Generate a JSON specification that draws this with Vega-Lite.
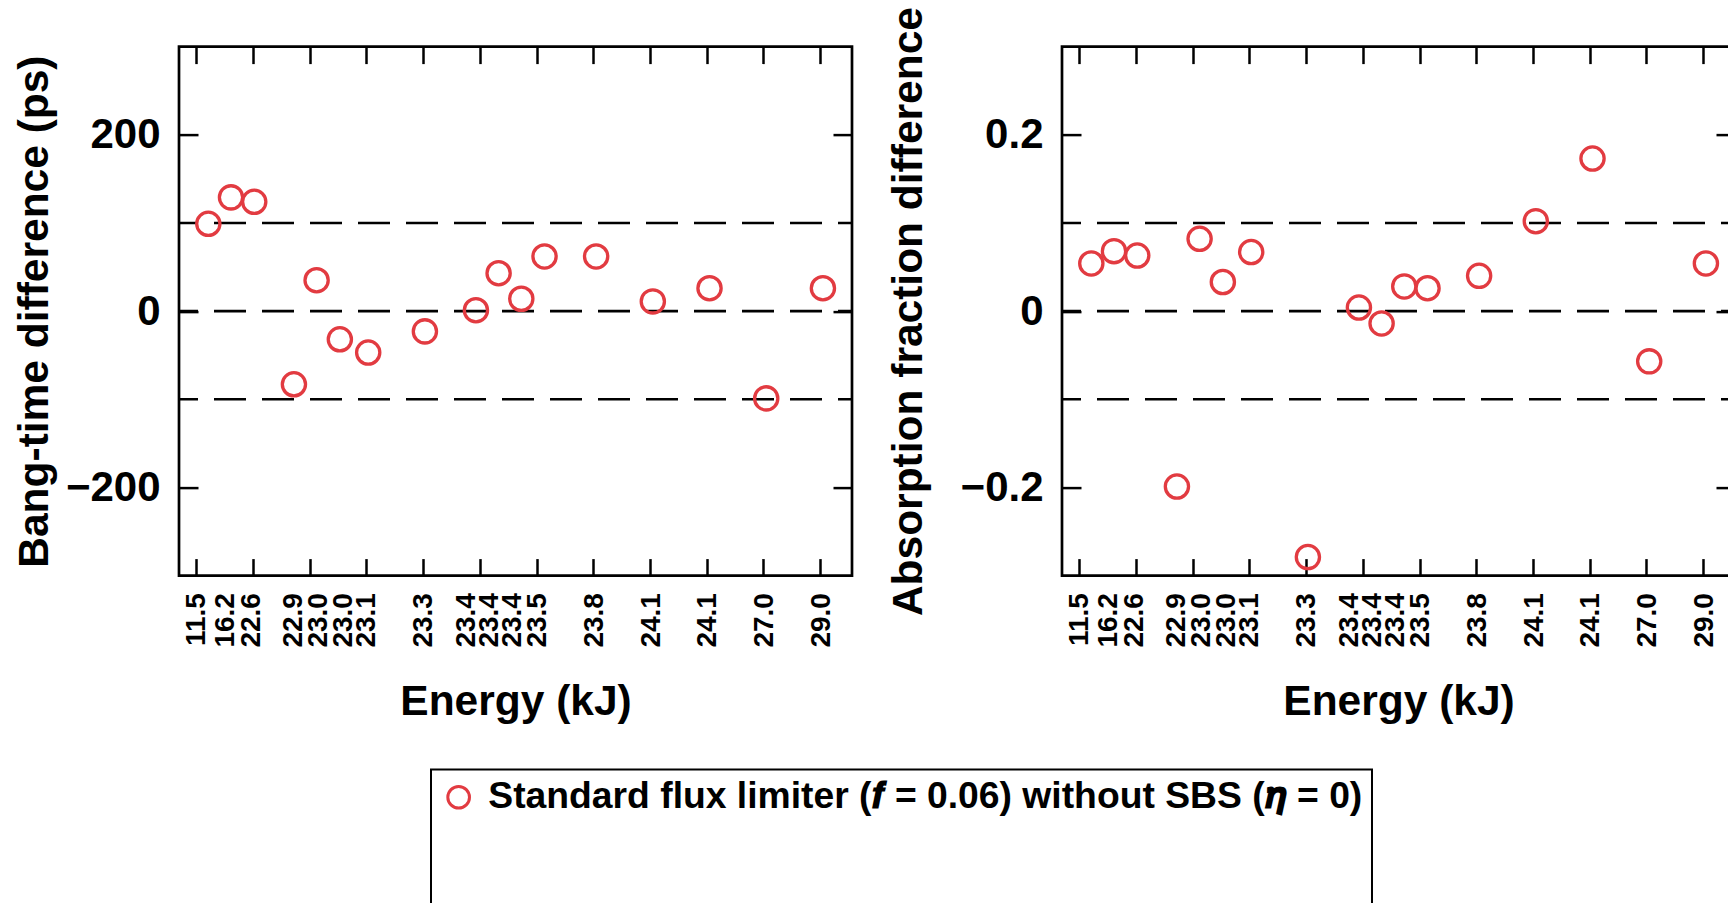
{
  "$schema": "https://vega.github.io/schema/vega-lite/v6.json",
  "padding": {"left": 12, "top": 4.6, "right": 0, "bottom": 0},
  "background": "white",
  "datasets": {
    "shots": [
      {"x": 0.21, "lx": 0.01, "energy": "11.5", "bang": 99, "absorption": 0.054},
      {"x": 0.61, "lx": 0.51, "energy": "16.2", "bang": 129, "absorption": 0.068},
      {"x": 1.02, "lx": 0.98, "energy": "22.6", "bang": 124, "absorption": 0.063},
      {"x": 1.72, "lx": 1.72, "energy": "22.9", "bang": -83, "absorption": -0.199},
      {"x": 2.12, "lx": 2.16, "energy": "23.0", "bang": 35, "absorption": 0.082},
      {"x": 2.53, "lx": 2.6, "energy": "23.0", "bang": -32, "absorption": 0.033},
      {"x": 3.03, "lx": 3.0, "energy": "23.1", "bang": -47, "absorption": 0.067},
      {"x": 4.03, "lx": 4.01, "energy": "23.3", "bang": -23, "absorption": -0.279},
      {"x": 4.93, "lx": 4.77, "energy": "23.4", "bang": 1, "absorption": 0.004},
      {"x": 5.33, "lx": 5.17, "energy": "23.4", "bang": 43, "absorption": -0.014},
      {"x": 5.73, "lx": 5.58, "energy": "23.4", "bang": 14, "absorption": 0.028},
      {"x": 6.14, "lx": 6.02, "energy": "23.5", "bang": 62, "absorption": 0.026},
      {"x": 7.05, "lx": 7.02, "energy": "23.8", "bang": 62, "absorption": 0.04},
      {"x": 8.05, "lx": 8.02, "energy": "24.1", "bang": 11, "absorption": 0.102},
      {"x": 9.05, "lx": 9.02, "energy": "24.1", "bang": 26, "absorption": 0.173},
      {"x": 10.05, "lx": 10.02, "energy": "27.0", "bang": -99, "absorption": -0.057},
      {"x": 11.05, "lx": 11.03, "energy": "29.0", "bang": 26, "absorption": 0.054}
    ],
    "lines": [
      {"bangLine": -100, "absLine": -0.1},
      {"bangLine": 0, "absLine": 0},
      {"bangLine": 100, "absLine": 0.1}
    ]
  },
  "config": {
    "font": "Liberation Sans",
    "view": {"stroke": "black", "strokeWidth": 2.7},
    "legend": {"strokeWidth": 2},
    "axis": {
      "domain": false,
      "grid": false,
      "tickColor": "black",
      "labelColor": "black",
      "titleColor": "black",
      "labelFont": "Liberation Sans",
      "titleFont": "Liberation Sans",
      "labelFontWeight": "bold",
      "titleFontWeight": "bold"
    }
  },
  "resolve": {"scale": {"color": "shared"}, "legend": {"color": "shared"}},
  "spacing": 30,
  "hconcat": [
    {
      "width": 673,
      "height": 529,
      "resolve": {"axis": {"x": "independent", "y": "independent"}},
      "layer": [
        {
          "data": {"name": "lines"},
          "mark": {"type": "rule", "strokeDash": [32, 16], "strokeDashOffset": 18, "strokeWidth": 2.6, "color": "black"},
          "encoding": {
            "y": {
              "field": "bangLine", "type": "quantitative",
              "scale": {"domain": [-300, 300], "nice": false, "zero": false},
              "axis": {"orient": "left", "values": [-200, 0, 200], "tickSize": -19, "tickWidth": 2.5, "labelPadding": 38, "labelFontSize": 42, "title": "Bang-time difference (ps)", "titleFontSize": 42.5, "titlePadding": 9}
            }
          }
        },
        {
          "data": {"name": "shots"},
          "mark": {"type": "point", "shape": "circle", "filled": false, "size": 540, "strokeWidth": 3.3, "opacity": 1},
          "encoding": {
            "x": {
              "field": "x", "type": "quantitative",
              "scale": {"domain": [-0.307, 11.563], "nice": false, "zero": false},
              "axis": {"orient": "bottom", "values": [0.01, 0.51, 0.98, 1.72, 2.16, 2.6, 3, 4.01, 4.77, 5.17, 5.58, 6.02, 7.02, 8.02, 9.02, 10.02, 11.03], "ticks": false, "labelAngle": -90, "labelAlign": "right", "labelBaseline": "middle", "labelExpr": "['11.5','16.2','22.6','22.9','23.0','23.0','23.1','23.3','23.4','23.4','23.4','23.5','23.8','24.1','24.1','27.0','29.0'][indexof([0.01,0.51,0.98,1.72,2.16,2.6,3,4.01,4.77,5.17,5.58,6.02,7.02,8.02,9.02,10.02,11.03], datum.value)]", "labelFontSize": 28, "labelPadding": 17, "labelOverlap": false, "labelFlush": false, "labelBound": false, "title": "Energy (kJ)", "titleFontSize": 42.5, "titlePadding": 33}
            },
            "y": {
              "field": "bang", "type": "quantitative",
              "axis": {"orient": "right", "values": [-200, 0, 200], "tickSize": -19, "tickWidth": 2.5, "labels": false, "title": null}
            },
            "color": {
              "datum": "Standard flux limiter (𝒇 = 0.06) without SBS (𝜼 = 0)",
              "type": "nominal",
              "scale": {"range": ["#e23b41"]},
              "legend": {"orient": "none", "legendX": 252, "legendY": 723, "title": " ", "titleOrient": "bottom", "titleFontSize": 100, "titlePadding": 0, "strokeColor": "black", "padding": 9, "labelFontSize": 37.3, "labelFont": "Liberation Sans", "labelFontWeight": "bold", "labelColor": "black", "labelLimit": 1400, "labelOffset": 11, "symbolSize": 470, "symbolStrokeWidth": 3, "symbolType": "circle"}
            }
          }
        },
        {
          "data": {"name": "shots"},
          "mark": {"type": "point", "opacity": 0},
          "encoding": {
            "x": {"field": "x", "type": "quantitative", "axis": {"orient": "bottom", "values": [0, 1, 2, 3, 4, 5, 6, 7, 8, 9, 10, 11], "tickSize": -17, "tickWidth": 2.5, "labels": false, "title": null}},
            "y": {"field": "bang", "type": "quantitative", "axis": null}
          }
        },
        {
          "data": {"name": "shots"},
          "mark": {"type": "point", "opacity": 0},
          "encoding": {
            "x": {"field": "x", "type": "quantitative", "axis": {"orient": "top", "values": [0, 1, 2, 3, 4, 5, 6, 7, 8, 9, 10, 11], "tickSize": -17, "tickWidth": 2.5, "labels": false, "title": null}},
            "y": {"field": "bang", "type": "quantitative", "axis": null}
          }
        }
      ]
    },
    {
      "width": 673,
      "height": 529,
      "resolve": {"axis": {"x": "independent", "y": "independent"}},
      "layer": [
        {
          "data": {"name": "lines"},
          "mark": {"type": "rule", "strokeDash": [32, 16], "strokeDashOffset": 18, "strokeWidth": 2.6, "color": "black"},
          "encoding": {
            "y": {
              "field": "absLine", "type": "quantitative",
              "scale": {"domain": [-0.3, 0.3], "nice": false, "zero": false},
              "axis": {"orient": "left", "values": [-0.2, 0, 0.2], "labelExpr": "datum.value === 0 ? '0' : format(datum.value, '.1f')", "tickSize": -19, "tickWidth": 2.5, "labelPadding": 38, "labelFontSize": 42, "title": "Absorption fraction difference", "titleFontSize": 42.5, "titlePadding": 30}
            }
          }
        },
        {
          "data": {"name": "shots"},
          "mark": {"type": "point", "shape": "circle", "filled": false, "size": 540, "strokeWidth": 3.3, "opacity": 1},
          "encoding": {
            "x": {
              "field": "x", "type": "quantitative",
              "scale": {"domain": [-0.307, 11.563], "nice": false, "zero": false},
              "axis": {"orient": "bottom", "values": [0.01, 0.51, 0.98, 1.72, 2.16, 2.6, 3, 4.01, 4.77, 5.17, 5.58, 6.02, 7.02, 8.02, 9.02, 10.02, 11.03], "ticks": false, "labelAngle": -90, "labelAlign": "right", "labelBaseline": "middle", "labelExpr": "['11.5','16.2','22.6','22.9','23.0','23.0','23.1','23.3','23.4','23.4','23.4','23.5','23.8','24.1','24.1','27.0','29.0'][indexof([0.01,0.51,0.98,1.72,2.16,2.6,3,4.01,4.77,5.17,5.58,6.02,7.02,8.02,9.02,10.02,11.03], datum.value)]", "labelFontSize": 28, "labelPadding": 17, "labelOverlap": false, "labelFlush": false, "labelBound": false, "title": "Energy (kJ)", "titleFontSize": 42.5, "titlePadding": 33}
            },
            "y": {
              "field": "absorption", "type": "quantitative",
              "axis": {"orient": "right", "values": [-0.2, 0, 0.2], "tickSize": -19, "tickWidth": 2.5, "labels": false, "title": null}
            },
            "color": {
              "datum": "Standard flux limiter (𝒇 = 0.06) without SBS (𝜼 = 0)",
              "type": "nominal",
              "scale": {"range": ["#e23b41"]},
              "legend": {"orient": "none", "legendX": 252, "legendY": 723, "title": " ", "titleOrient": "bottom", "titleFontSize": 100, "titlePadding": 0, "strokeColor": "black", "padding": 9, "labelFontSize": 37.3, "labelFont": "Liberation Sans", "labelFontWeight": "bold", "labelColor": "black", "labelLimit": 1400, "labelOffset": 11, "symbolSize": 470, "symbolStrokeWidth": 3, "symbolType": "circle"}
            }
          }
        },
        {
          "data": {"name": "shots"},
          "mark": {"type": "point", "opacity": 0},
          "encoding": {
            "x": {"field": "x", "type": "quantitative", "axis": {"orient": "bottom", "values": [0, 1, 2, 3, 4, 5, 6, 7, 8, 9, 10, 11], "tickSize": -17, "tickWidth": 2.5, "labels": false, "title": null}},
            "y": {"field": "absorption", "type": "quantitative", "axis": null}
          }
        },
        {
          "data": {"name": "shots"},
          "mark": {"type": "point", "opacity": 0},
          "encoding": {
            "x": {"field": "x", "type": "quantitative", "axis": {"orient": "top", "values": [0, 1, 2, 3, 4, 5, 6, 7, 8, 9, 10, 11], "tickSize": -17, "tickWidth": 2.5, "labels": false, "title": null}},
            "y": {"field": "absorption", "type": "quantitative", "axis": null}
          }
        }
      ]
    }
  ]
}
